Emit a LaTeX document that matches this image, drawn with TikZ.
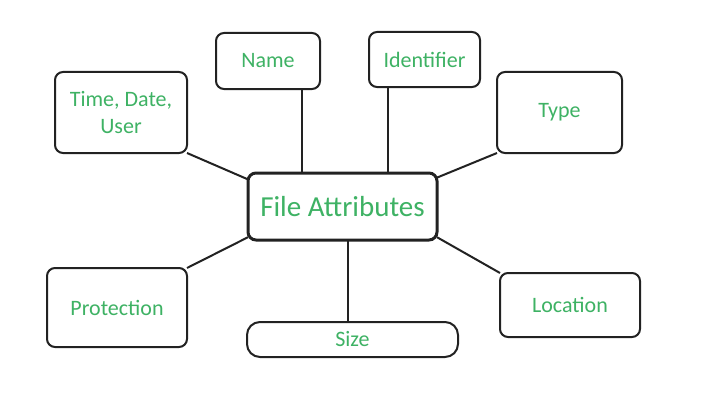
\documentclass[tikz,border=0pt]{standalone}
\usepackage{fontspec}
\setmainfont{Carlito}
\definecolor{attrgreen}{RGB}{62,178,100}
\definecolor{boxline}{RGB}{34,34,34}
\begin{document}
\begin{tikzpicture}[x=1pt,y=-1pt,
  attr/.style={draw=boxline, line width=2pt, rounded corners=8pt, fill=white,
    text=attrgreen, font=\fontsize{22}{27}\selectfont, align=center,
    inner sep=0pt, outer sep=0pt},
  hub/.style={attr, line width=3pt, font=\fontsize{29}{34}\selectfont},
  link/.style={draw=boxline, line width=2pt}]
\useasboundingbox (0,0) rectangle (720,404);
\fill[white] (0,0) rectangle (720,404);
\node[hub, minimum width=189pt, minimum height=67pt] (main) at (342.5,206.5) {File Attributes};
\node[attr, minimum width=132pt, minimum height=81pt] (time) at (121,112.5) {Time, Date,\\User};
\node[attr, minimum width=104pt, minimum height=56pt] (name) at (268,61) {Name};
\node[attr, minimum width=111pt, minimum height=55pt] (ident) at (424.5,59.5) {Identifier};
\node[attr, minimum width=125pt, minimum height=81pt] (type) at (559.5,112.5) {Type};
\node[attr, minimum width=140pt, minimum height=79pt] (prot) at (117,307.5) {Protection};
\node[attr, minimum width=211pt, minimum height=35pt, rounded corners=13pt] (size) at (352.5,339.5) {Size};
\node[attr, minimum width=140pt, minimum height=64pt] (loc) at (570,305) {Location};
\draw[link] (time.south east) -- (main.164);
\draw[link] (type.south west) -- (main.17);
\draw[link] (prot.north east) -- (main.198);
\draw[link] (loc.north west) -- (main.-18);
\draw[link] ([xshift=-18pt]name.south east) -- ([xshift=-18pt]name.south east |- main.north);
\draw[link] ([xshift=19pt]ident.south west) -- ([xshift=19pt]ident.south west |- main.north);
\draw[link] ([xshift=5pt]main.south) -- ([xshift=5pt]main.south |- size.north);
\end{tikzpicture}
\end{document}
